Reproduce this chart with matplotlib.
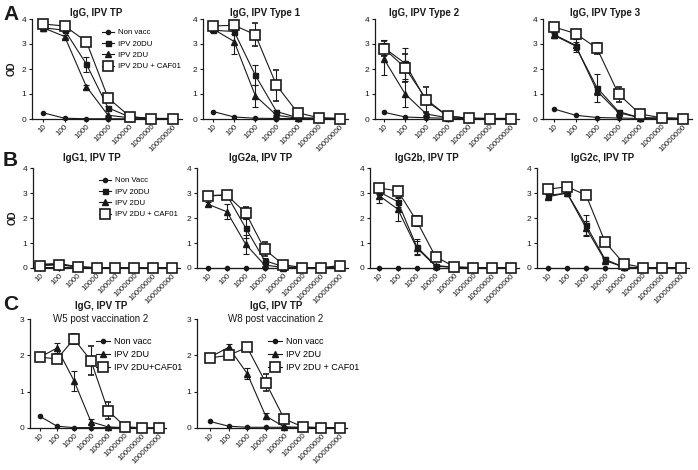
import matplotlib
matplotlib.use("Agg")
import matplotlib.pyplot as plt
from matplotlib.lines import Line2D

plt.rcParams['font.family'] = ['Liberation Sans', 'DejaVu Sans']

# ---------------- data ----------------
doses_A = ['10', '100', '1000', '10000', '100000', '1000000', '10000000']
doses_B = ['10', '100', '1000', '10000', '100000', '1000000', '10000000', '100000000']
doses_C = doses_B

# Row A
a1_nonvacc = [0.25, 0.03, 0.01, 0.01, 0.01, 0.01, 0.01]
a1_20du = [3.65, 3.55, 2.2, 0.45, 0.08, 0.02, 0.02]
a1_20du_err = [0.05, 0.05, 0.3, 0.08, 0.02, 0, 0]
a1_2du = [3.65, 3.3, 1.3, 0.15, 0.05, 0.02, 0.02]
a1_2du_err = [0.03, 0.05, 0.08, 0.03, 0, 0, 0]
a1_caf = [3.8, 3.72, 3.1, 0.85, 0.1, 0.02, 0.02]
a1_caf_err = [0.05, 0.05, 0.08, 0.15, 0.02, 0, 0]

a2_nonvacc = [0.3, 0.08, 0.03, 0.02, 0.02, 0.02, 0.02]
a2_20du = [3.55, 3.5, 1.75, 0.3, 0.05, 0.03, 0.02]
a2_20du_err = [0.05, 0.1, 0.4, 0.05, 0, 0, 0]
a2_2du = [3.6, 3.1, 0.93, 0.15, 0.03, 0.02, 0.02]
a2_2du_err = [0.05, 0.5, 0.45, 0.03, 0, 0, 0]
a2_caf = [3.72, 3.75, 3.37, 1.35, 0.25, 0.05, 0.02]
a2_caf_err = [0.05, 0.05, 0.47, 0.62, 0.03, 0, 0]

a3_nonvacc = [0.27, 0.08, 0.05, 0.03, 0.02, 0.02, 0.02]
a3_20du = [2.85, 2.22, 0.72, 0.12, 0.03, 0.02, 0.02]
a3_20du_err = [0.3, 0.62, 0.1, 0.03, 0, 0, 0]
a3_2du = [2.4, 1.0, 0.2, 0.05, 0.02, 0.02, 0.02]
a3_2du_err = [0.65, 0.53, 0.05, 0, 0, 0, 0]
a3_caf = [2.82, 2.05, 0.78, 0.12, 0.03, 0.02, 0.02]
a3_caf_err = [0.3, 0.55, 0.5, 0.03, 0, 0, 0]

a4_nonvacc = [0.4, 0.15, 0.06, 0.04, 0.02, 0.02, 0.02]
a4_20du = [3.35, 2.92, 1.25, 0.3, 0.05, 0.03, 0.02]
a4_20du_err = [0.08, 0.15, 0.55, 0.08, 0, 0, 0]
a4_2du = [3.38, 2.95, 1.12, 0.25, 0.05, 0.03, 0.02]
a4_2du_err = [0.1, 0.25, 0.15, 0.08, 0, 0, 0]
a4_caf = [3.68, 3.42, 2.83, 1.0, 0.2, 0.05, 0.02]
a4_caf_err = [0.05, 0.08, 0.22, 0.3, 0.03, 0, 0]

# Row B
b1_nonvacc = [0.02, 0.02, 0.01, 0.01, 0.0, 0.0, 0.0, 0.0]
b1_20du = [0.15, 0.18, 0.05, 0.01, 0.0, 0.0, 0.0, 0.0]
b1_20du_err = [0.04, 0.05, 0.01, 0, 0, 0, 0, 0]
b1_2du = [0.13, 0.15, 0.04, 0.01, 0.0, 0.0, 0.0, 0.0]
b1_2du_err = [0.03, 0.04, 0.01, 0, 0, 0, 0, 0]
b1_caf = [0.1, 0.12, 0.05, 0.01, 0.0, 0.0, 0.0, 0.0]
b1_caf_err = [0.02, 0.03, 0.01, 0, 0, 0, 0, 0]

b2_nonvacc = [0.0, 0.0, 0.0, 0.0, 0.0, 0.0, 0.0, 0.0]
b2_20du = [2.9, 2.92, 1.6, 0.3, 0.05, 0.02, 0.01, 0.05]
b2_20du_err = [0.05, 0.05, 0.38, 0.1, 0, 0, 0, 0]
b2_2du = [2.55, 2.25, 0.95, 0.12, 0.02, 0.01, 0.01, 0.03]
b2_2du_err = [0.08, 0.3, 0.38, 0.05, 0, 0, 0, 0]
b2_caf = [2.88, 2.92, 2.2, 0.75, 0.13, 0.02, 0.01, 0.1]
b2_caf_err = [0.05, 0.05, 0.25, 0.28, 0.03, 0, 0, 0]

b3_nonvacc = [0.0, 0.0, 0.0, 0.0, 0.0, 0.0, 0.0, 0.0]
b3_20du = [3.05, 2.65, 0.85, 0.1, 0.03, 0.01, 0.01, 0.01]
b3_20du_err = [0.1, 0.2, 0.3, 0.03, 0, 0, 0, 0]
b3_2du = [2.9, 2.35, 0.8, 0.08, 0.02, 0.01, 0.01, 0.01]
b3_2du_err = [0.3, 0.45, 0.28, 0.03, 0, 0, 0, 0]
b3_caf = [3.2, 3.08, 1.88, 0.45, 0.05, 0.02, 0.01, 0.02]
b3_caf_err = [0.05, 0.05, 0.2, 0.05, 0, 0, 0, 0]

b4_nonvacc = [0.0, 0.0, 0.0, 0.0, 0.0, 0.0, 0.0, 0.0]
b4_20du = [2.9, 3.0, 1.72, 0.35, 0.03, 0.01, 0.01, 0.01]
b4_20du_err = [0.1, 0.05, 0.4, 0.1, 0, 0, 0, 0]
b4_2du = [2.85, 3.0, 1.6, 0.3, 0.03, 0.01, 0.01, 0.01]
b4_2du_err = [0.1, 0.05, 0.3, 0.1, 0, 0, 0, 0]
b4_caf = [3.15, 3.25, 2.92, 1.05, 0.17, 0.02, 0.01, 0.01]
b4_caf_err = [0.05, 0.05, 0.08, 0.08, 0.02, 0, 0, 0]

# Row C
c1_nonvacc = [0.32, 0.05, 0.01, 0.01, 0.01, 0.01, 0.0, 0.0]
c1_2du = [1.95, 2.2, 1.3, 0.17, 0.03, 0.01, 0.0, 0.0]
c1_2du_err = [0.05, 0.13, 0.28, 0.07, 0, 0, 0, 0]
c1_caf = [1.95, 1.9, 2.45, 1.85, 0.48, 0.04, 0.0, 0.0]
c1_caf_err = [0.03, 0.03, 0.15, 0.4, 0.23, 0, 0, 0]

c2_nonvacc = [0.18, 0.05, 0.02, 0.02, 0.02, 0.02, 0.01, 0.01]
c2_2du = [1.95, 2.22, 1.5, 0.33, 0.03, 0.01, 0.01, 0.01]
c2_2du_err = [0.03, 0.08, 0.15, 0.07, 0, 0, 0, 0]
c2_caf = [1.93, 2.0, 2.22, 1.25, 0.25, 0.03, 0.01, 0.01]
c2_caf_err = [0.05, 0.05, 0.05, 0.23, 0.03, 0, 0, 0]

titles_A = ['IgG, IPV TP', 'IgG, IPV Type 1', 'IgG, IPV Type 2', 'IgG, IPV Type 3']
titles_B = ['IgG1, IPV TP', 'IgG2a, IPV TP', 'IgG2b, IPV TP', 'IgG2c, IPV TP']
titles_C = ['IgG, IPV TP', 'IgG, IPV TP']
subtitles_C = ['W5 post vaccination 2', 'W8 post vaccination 2']

legend_A = ['Non vacc', 'IPV 20DU', 'IPV 2DU', 'IPV 2DU + CAF01']
legend_B = ['Non Vacc', 'IPV 20DU', 'IPV 2DU', 'IPV 2DU + CAF01']
legend_C1 = ['Non vacc', 'IPV 2DU', 'IPV 2DU+CAF01']
legend_C2 = ['Non vacc', 'IPV 2DU', 'IPV 2DU + CAF01']

# ---------------- styles ----------------
W, H = 698, 470
fig = plt.figure(figsize=(W / 100, H / 100), dpi=100)
INK = '#1a1a1a'
LW = 0.8
STY = {
    'non': dict(marker='o', ms=3, mfc=INK, mec=INK),
    '20': dict(marker='s', ms=3.6, mfc=INK, mec=INK),
    '2': dict(marker='^', ms=4, mfc=INK, mec=INK),
    'caf': dict(marker='s', ms=7, mfc='white', mec=INK, mew=1.2),
}


def ftext(x_px, y_px, s, **kw):
    fig.text(x_px / W, 1 - y_px / H, s, ha='center', va='center', color=INK, **kw)


def make_ax(axis_x, first_x, last_x, ytop, y0, n, ymax):
    step = (last_x - first_x) / (n - 1)
    xl = -(first_x - axis_x) / step
    xr = n - 1 + 0.4
    right_px = last_x + 0.4 * step
    ax = fig.add_axes([axis_x / W, 1 - y0 / H, (right_px - axis_x) / W, (y0 - ytop) / H])
    ax.set_xlim(xl, xr)
    ax.set_ylim(0, ymax)
    for s in ('top', 'right'):
        ax.spines[s].set_visible(False)
    for s in ('left', 'bottom'):
        ax.spines[s].set_linewidth(0.9)
        ax.spines[s].set_color(INK)
    ax.set_yticks(range(0, ymax + 1))
    ax.tick_params(axis='y', length=2.5, width=0.8, labelsize=6, pad=1.5, colors=INK)
    ax.tick_params(axis='x', length=2, width=0.8, labelsize=5.8, pad=1, colors=INK)
    return ax


def series(ax, vals, err, key, z):
    x = list(range(len(vals)))
    if err is not None:
        ax.errorbar(x, vals, yerr=err, color=INK, lw=LW, elinewidth=0.8, capsize=2,
                    capthick=0.8, zorder=z, clip_on=False, **STY[key])
    else:
        ax.plot(x, vals, color=INK, lw=LW, zorder=z, clip_on=False, **STY[key])


def xlabels(ax, labels):
    ax.set_xticks(range(len(labels)))
    ax.set_xticklabels(labels, rotation=45, ha='right', rotation_mode='anchor')


def legend(ax, labels, keys, x_px, y_px, size, spacing):
    handles = [Line2D([], [], color=INK, lw=LW, **STY[k]) for k in keys]
    ax.legend(handles, labels, loc='upper left', bbox_to_anchor=(x_px / W, 1 - y_px / H),
              bbox_transform=fig.transFigure, frameon=False, fontsize=size,
              handlelength=1.6, handletextpad=0.4, borderpad=0, borderaxespad=0,
              labelspacing=spacing)


# ---------------- row A ----------------
rowA = [
    (a1_nonvacc, a1_20du, a1_20du_err, a1_2du, a1_2du_err, a1_caf, a1_caf_err),
    (a2_nonvacc, a2_20du, a2_20du_err, a2_2du, a2_2du_err, a2_caf, a2_caf_err),
    (a3_nonvacc, a3_20du, a3_20du_err, a3_2du, a3_2du_err, a3_caf, a3_caf_err),
    (a4_nonvacc, a4_20du, a4_20du_err, a4_2du, a4_2du_err, a4_caf, a4_caf_err),
]
posA = [(32, 43, 173), (203, 213, 340), (375, 384, 511), (543, 554, 683)]
titleA_x = [96, 265, 424, 605]
for i, (d, p) in enumerate(zip(rowA, posA)):
    ax = make_ax(p[0], p[1], p[2], 19, 119, len(doses_A), 4)
    series(ax, d[0], None, 'non', 3)
    series(ax, d[1], d[2], '20', 4)
    series(ax, d[3], d[4], '2', 5)
    series(ax, d[5], d[6], 'caf', 6)
    xlabels(ax, doses_A)
    ftext(titleA_x[i], 13, titles_A[i], fontsize=7, fontweight='bold')
    if i == 0:
        ax.set_ylabel('OD', fontsize=7, fontweight='bold', labelpad=4, color=INK)
        legend(ax, legend_A, ['non', '20', '2', 'caf'], 102, 29, 5.6, 0.5)

# ---------------- row B ----------------
rowB = [
    (b1_nonvacc, b1_20du, b1_20du_err, b1_2du, b1_2du_err, b1_caf, b1_caf_err),
    (b2_nonvacc, b2_20du, b2_20du_err, b2_2du, b2_2du_err, b2_caf, b2_caf_err),
    (b3_nonvacc, b3_20du, b3_20du_err, b3_2du, b3_2du_err, b3_caf, b3_caf_err),
    (b4_nonvacc, b4_20du, b4_20du_err, b4_2du, b4_2du_err, b4_caf, b4_caf_err),
]
posB = [(33, 40, 172), (197, 208, 340), (370, 379, 511), (537, 548, 681)]
titleB_x = [92, 261, 427, 603]
for i, (d, p) in enumerate(zip(rowB, posB)):
    ax = make_ax(p[0], p[1], p[2], 168, 268, len(doses_B), 4)
    series(ax, d[0], None, 'non', 3)
    series(ax, d[1], d[2], '20', 4)
    series(ax, d[3], d[4], '2', 5)
    series(ax, d[5], d[6], 'caf', 6)
    xlabels(ax, doses_B)
    ftext(titleB_x[i], 158, titles_B[i], fontsize=7, fontweight='bold')
    if i == 0:
        ax.set_ylabel('OD', fontsize=7, fontweight='bold', labelpad=4, color=INK)
        legend(ax, legend_B, ['non', '20', '2', 'caf'], 99, 177, 5.6, 0.5)

# ---------------- row C ----------------
rowC = [
    (c1_nonvacc, c1_2du, c1_2du_err, c1_caf, c1_caf_err),
    (c2_nonvacc, c2_2du, c2_2du_err, c2_caf, c2_caf_err),
]
posC = [(30, 40, 159), (197, 210, 340)]
titleC_x = [101, 276]
legC = [(legend_C1, 96, 337), (legend_C2, 268, 337)]
for i, (d, p) in enumerate(zip(rowC, posC)):
    ax = make_ax(p[0], p[1], p[2], 319, 428, len(doses_C), 3)
    series(ax, d[0], None, 'non', 3)
    series(ax, d[1], d[2], '2', 5)
    series(ax, d[3], d[4], 'caf', 6)
    xlabels(ax, doses_C)
    ftext(titleC_x[i], 306, titles_C[i], fontsize=7, fontweight='bold')
    ftext(titleC_x[i], 319, subtitles_C[i], fontsize=7)
    labs, lx, ly = legC[i]
    legend(ax, labs, ['non', '2', 'caf'], lx, ly, 6.5, 0.45)

# panel letters
for letter, y in (('A', 14), ('B', 160), ('C', 305)):
    fig.text(3 / W, 1 - y / H, letter, fontsize=15, fontweight='bold', va='center',
             ha='left', color=INK)

fig.savefig('out.png', dpi=100)
